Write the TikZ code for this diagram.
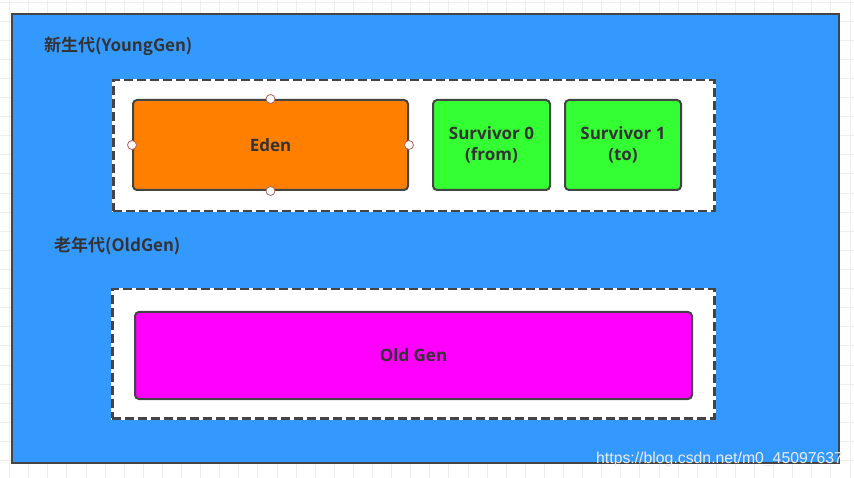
\documentclass[tikz,border=0pt]{standalone}
\usepackage{fontspec}
\setmainfont{Open Sans}
\newfontfamily\cjk{Noto Sans CJK SC}[BoldFont={Noto Sans CJK SC Bold}]
\newfontfamily\wm{Liberation Sans}
\definecolor{gridc}{HTML}{EEEEEE}
\definecolor{bluebg}{HTML}{3399FF}
\definecolor{edge}{HTML}{444444}
\definecolor{txt}{HTML}{333333}
\definecolor{edenc}{HTML}{FF8000}
\definecolor{survc}{HTML}{33FF33}
\definecolor{oldc}{HTML}{FF00FF}
\definecolor{handle}{HTML}{B06060}
\tikzset{
  region/.style={draw=edge, line width=2.5pt, dash pattern=on 9pt off 4pt, fill=white,
    preaction={draw=white, line width=2.5pt, solid}},
  memblock/.style={draw=edge, line width=2pt, rounded corners=4pt, text=txt,
    font=\bfseries\fontsize{17}{21}\selectfont, align=center, inner sep=0pt},
  genlabel/.style={text=txt, font=\cjk\bfseries\fontsize{17}{20}\selectfont, anchor=west, inner sep=0pt},
  handlec/.style={circle, draw=handle, fill=white, line width=0.8pt, minimum size=9pt, inner sep=0pt},
}
\begin{document}
\begin{tikzpicture}[x=1pt,y=-1pt]
\useasboundingbox (0,0) rectangle (854,478);
\fill[white] (0,0) rectangle (854,478);
\foreach \i in {0,...,44} {\draw[gridc, line width=0.8pt] ({9.5+19.1*\i},0) -- ({9.5+19.1*\i},478);}
\foreach \j in {0,...,24} {\draw[gridc, line width=0.8pt] (0,{2+19.1*\j}) -- (854,{2+19.1*\j});}
% heap
\node[draw=edge, line width=2pt, fill=bluebg, minimum width=827pt, minimum height=449pt, anchor=north west, inner sep=0pt] (heap) at (11,13) {};
\node[genlabel] (younglbl) at (44,46) {新生代(YoungGen)};
\node[genlabel] (oldlbl) at (54,246) {老年代(OldGen)};
% young region
\node[region, minimum width=601pt, minimum height=131pt, anchor=north west, inner sep=0pt] (young) at (112,79) {};
\node[memblock, fill=edenc, minimum width=275pt, minimum height=90pt, anchor=north west] (eden) at (132,99) {Eden};
\node[memblock, fill=survc, minimum width=117pt, minimum height=90pt, anchor=north west] (s0) at (432,99) {Survivor 0\\(from)};
\node[memblock, fill=survc, minimum width=116pt, minimum height=90pt, anchor=north west] (s1) at (564,99) {Survivor 1\\(to)};
\node[handlec] (hn) at (eden.north) {};
\node[handlec] (hs) at (eden.south) {};
\node[handlec] (hw) at (eden.west) {};
\node[handlec] (he) at (eden.east) {};
% old region
\node[region, minimum width=602pt, minimum height=129pt, anchor=north west, inner sep=0pt] (old) at (111,288) {};
\node[memblock, fill=oldc, minimum width=557pt, minimum height=87pt, anchor=north west] (oldgen) at (134,311) {Old Gen};
% watermark
\node[text=white!85!gray, font=\wm\fontsize{15.8}{17}\selectfont, anchor=west, inner sep=0pt] (mark) at (596,459) {https://blog.csdn.net/m0\_45097637};
\end{tikzpicture}
\end{document}
